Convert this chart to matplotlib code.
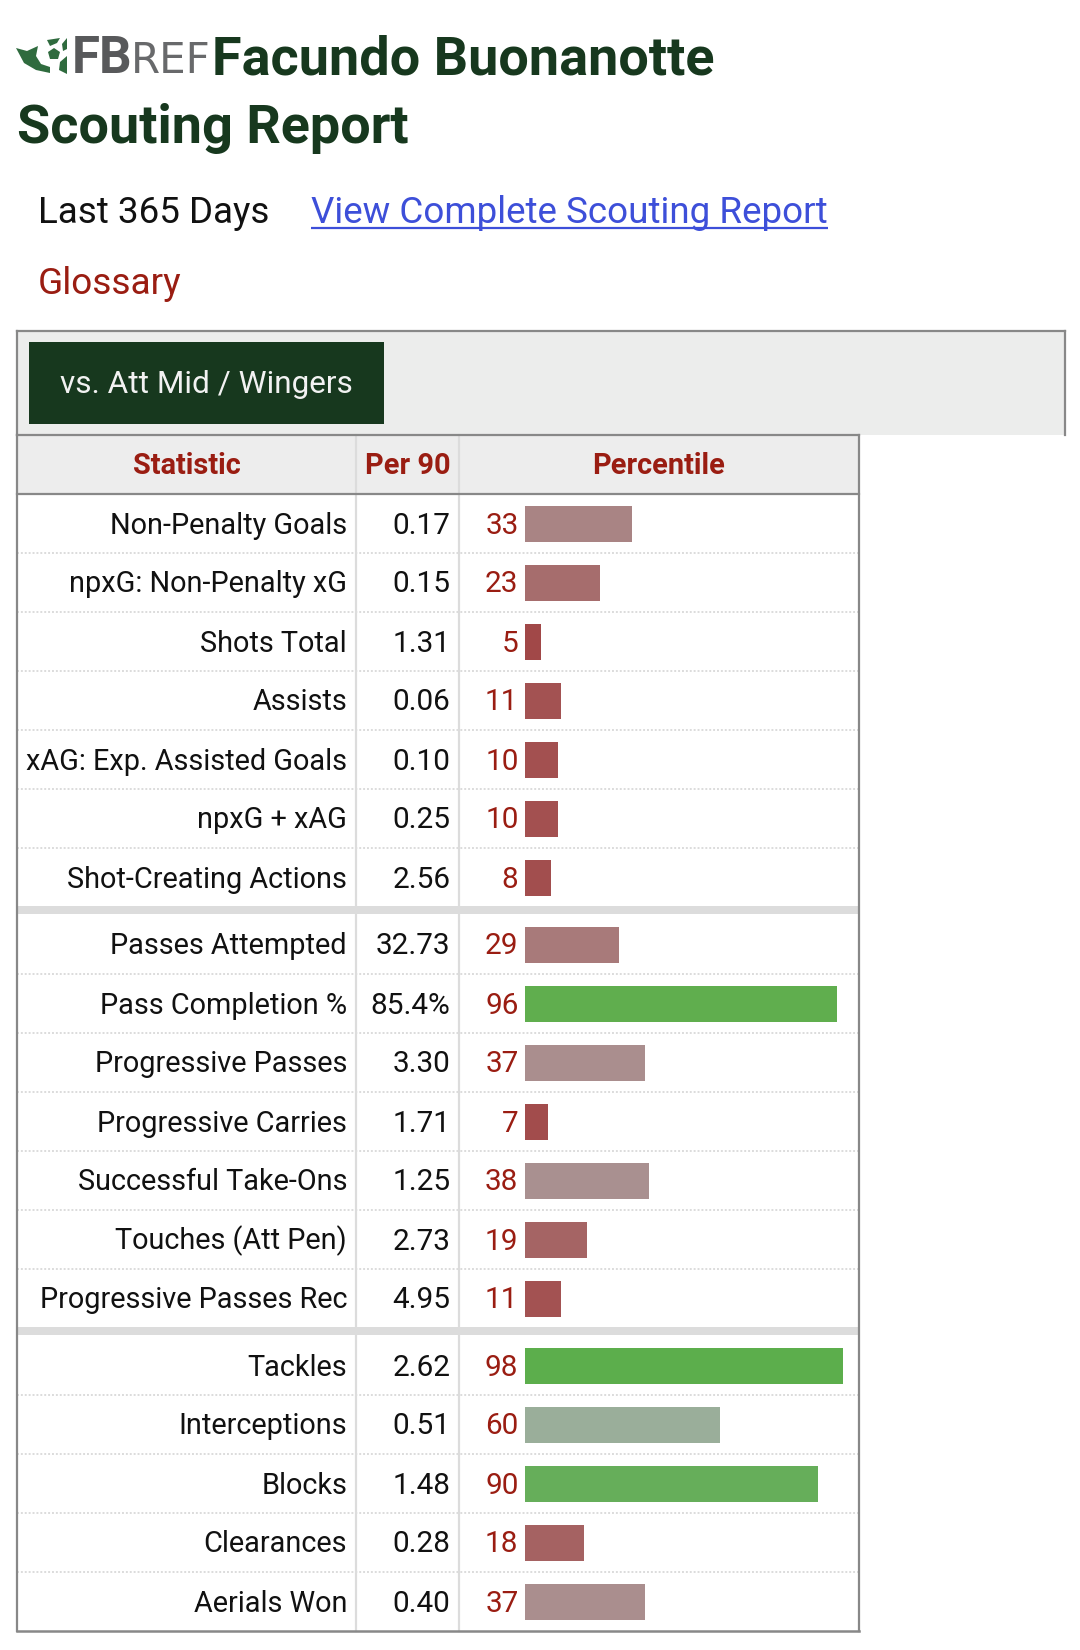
import matplotlib
matplotlib.use("Agg")
import matplotlib.pyplot as plt
from matplotlib.patches import Polygon, Rectangle

plt.rcParams['font.family'] = ['Roboto', 'DejaVu Sans']

# data
stats_attack = ["Non-Penalty Goals", "npxG: Non-Penalty xG", "Shots Total", "Assists",
                "xAG: Exp. Assisted Goals", "npxG + xAG", "Shot-Creating Actions"]
per90_attack = ["0.17", "0.15", "1.31", "0.06", "0.10", "0.25", "2.56"]
pct_attack = [33, 23, 5, 11, 10, 10, 8]

stats_poss = ["Passes Attempted", "Pass Completion %", "Progressive Passes", "Progressive Carries",
              "Successful Take-Ons", "Touches (Att Pen)", "Progressive Passes Rec"]
per90_poss = ["32.73", "85.4%", "3.30", "1.71", "1.25", "2.73", "4.95"]
pct_poss = [29, 96, 37, 7, 38, 19, 11]

stats_def = ["Tackles", "Interceptions", "Blocks", "Clearances", "Aerials Won"]
per90_def = ["2.62", "0.51", "1.48", "0.28", "0.40"]
pct_def = [98, 60, 90, 18, 37]

groups = [(stats_attack, per90_attack, pct_attack),
          (stats_poss, per90_poss, pct_poss),
          (stats_def, per90_def, pct_def)]

headers = ["Statistic", "Per 90", "Percentile"]

# colour of each percentile bar
pct_colors = {5: "#a14848", 7: "#a24c4c", 8: "#a24e4e", 10: "#a35050", 11: "#a35252",
              18: "#a56262", 19: "#a56464", 23: "#a66d6d", 29: "#a87a7a", 33: "#a98484",
              37: "#aa8e8e", 38: "#a99090", 60: "#9aae9a", 90: "#66ae5a", 96: "#60ae4e",
              98: "#5cae4c"}

W, H = 1080, 1650
GREEN = "#17381e"
RED = "#9a1d12"
LINE = "#dcdcdc"
BORDER = "#888888"

fig = plt.figure(figsize=(W / 100, H / 100), dpi=100, facecolor="white")

# page axes in pixels, y going down
ax = fig.add_axes([0, 0, 1, 1])
ax.set_xlim(0, W)
ax.set_ylim(H, 0)
ax.axis("off")


def px(size):
    return size * 0.72


# logo
logo_green = "#2f6b3e"
for pts in [[(16, 48), (27, 51), (38, 46), (36, 56), (41, 64), (50, 67), (50, 73), (36, 70), (24, 63)],
            [(47, 40), (60, 38), (57, 43), (50, 46)],
            [(62, 44), (67, 38), (67, 49), (63, 51)],
            [(48, 52), (54, 48), (60, 52), (58, 59), (50, 59)],
            [(60, 62), (67, 56), (67, 74), (59, 70)]]:
    ax.add_patch(Polygon(pts, closed=True, fc=logo_green, ec="none"))
ax.text(71.5, 73, "FB", fontsize=px(51), fontweight="bold", color="#58595b", va="baseline")
ax.text(131, 73, "REF", fontsize=px(42), family="Liberation Sans Narrow", color="#68696b", va="baseline")

# title
ax.text(212, 74.5, "Facundo Buonanotte", fontsize=px(54), fontweight="bold", color=GREEN, va="baseline")
ax.text(17, 142.5, "Scouting Report", fontsize=px(54), fontweight="bold", color=GREEN, va="baseline")

ax.text(38, 223, "Last 365 Days", fontsize=px(36.7), color="#111111", va="baseline")
ax.text(311, 223, "View Complete Scouting Report", fontsize=px(36.8), color="#3d4fd9", va="baseline")
ax.plot([311, 828], [227.5, 227.5], color="#3d4fd9", lw=1.6, solid_capstyle="butt")
ax.text(38, 294, "Glossary", fontsize=px(37), color=RED, va="baseline")

# filter strip and tab
ax.add_patch(Rectangle((17, 331), 1048, 104, fc="#ecedec", ec="none"))
ax.plot([17, 1065], [331, 331], color=BORDER, lw=1.6)
ax.plot([17, 17], [331, 435], color=BORDER, lw=1.6)
ax.plot([1065, 1065], [331, 435], color=BORDER, lw=1.6)
ax.add_patch(Rectangle((29, 342), 355, 82, fc=GREEN, ec="none"))
ax.text(206.5, 393, "vs. Att Mid / Wingers", fontsize=px(31.5), color="#f2f2f2", ha="center", va="baseline")

# table header
TABLE_L, TABLE_R = 17, 859
COL1, COL2 = 356, 459
TOP, HEAD_B, BOTTOM = 435, 494, 1631
ROW_H = 59
ax.add_patch(Rectangle((TABLE_L, TOP), TABLE_R - TABLE_L, HEAD_B - TOP, fc="#ededed", ec="none"))
for label, xc in zip(headers, [186.5, 407.5, 659]):
    ax.text(xc, 474.5, label, fontsize=px(29), fontweight="bold", color=RED, ha="center", va="baseline")

# bars live in their own axes: x is the percentile, y stays in page pixels
ax_bars = fig.add_axes([525 / W, 0, 325 / W, 1])
ax_bars.set_xlim(0, 100)
ax_bars.set_ylim(H, 0)
ax_bars.axis("off")

y = HEAD_B
for g, (stats, per90, pct) in enumerate(groups):
    for i, (name, val, p) in enumerate(zip(stats, per90, pct)):
        yc = y + ROW_H / 2
        base = yc + 10
        ax.text(347, base, name, fontsize=px(28.9), color="#111111", ha="right", va="baseline")
        ax.text(450.5, base, val, fontsize=px(29.8), color="#111111", ha="right", va="baseline")
        ax.text(518.5, base, str(p), fontsize=px(29.8), color=RED, ha="right", va="baseline")
        ax_bars.barh(yc, p, height=36, left=0, color=pct_colors[p], linewidth=0)
        y += ROW_H
        if i < len(stats) - 1:
            ax.plot([TABLE_L, TABLE_R], [y, y], color=LINE, lw=1.4, ls=(0, (1, 1)))
    if g < len(groups) - 1:
        ax.add_patch(Rectangle((TABLE_L, y - 1), TABLE_R - TABLE_L, 8, fc=LINE, ec="none", zorder=3))
        y += 8

# column rules and borders
for xc in [COL1, COL2]:
    ax.plot([xc, xc], [TOP, BOTTOM], color=LINE, lw=1.6, zorder=2)
ax.plot([TABLE_L, TABLE_R], [TOP, TOP], color=BORDER, lw=1.6, zorder=4)
ax.plot([TABLE_L, TABLE_R], [HEAD_B, HEAD_B], color=BORDER, lw=1.6, zorder=4)
ax.plot([TABLE_L, TABLE_R], [BOTTOM, BOTTOM], color=BORDER, lw=1.8, zorder=4)
ax.plot([TABLE_L, TABLE_L], [TOP, BOTTOM], color=BORDER, lw=1.6, zorder=4)
ax.plot([TABLE_R, TABLE_R], [TOP, BOTTOM], color=BORDER, lw=1.6, zorder=4)

fig.savefig("out.png", dpi=100, facecolor="white")
